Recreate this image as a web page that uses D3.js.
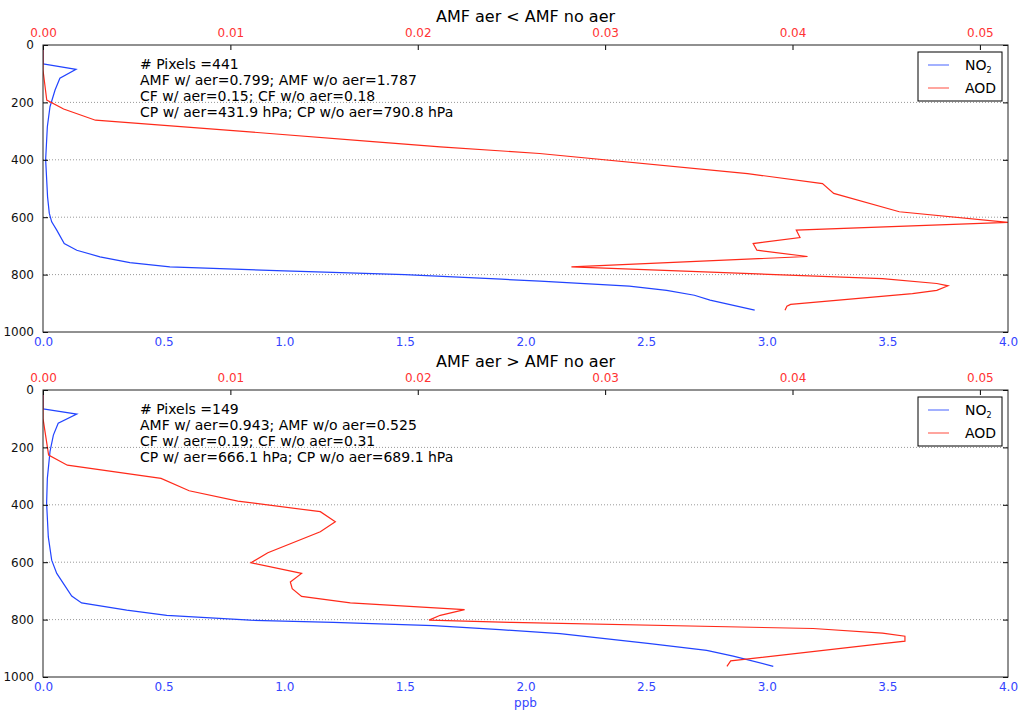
<!DOCTYPE html>
<html>
<head>
<meta charset="utf-8">
<script src="https://cdn.jsdelivr.net/npm/d3@7"></script>
<style>
  body { margin: 0; background: #fff; }
  svg { font-family: "DejaVu Sans", sans-serif; }
</style>
</head>
<body>
<div id="chart"></div>
<script>
// panel 1: AMF aer < AMF no aer
const no2Pres1 = [0, 66, 85, 116, 157, 215, 285, 400, 530, 586, 616, 645, 692, 715, 738, 758, 773, 787, 800, 816, 823, 840, 855, 872, 889, 924];
const no2Ppb1  = [0, 0, 0.137, 0.07, 0.05, 0.029, 0.018, 0.011, 0.019, 0.026, 0.036, 0.057, 0.088, 0.14, 0.236, 0.36, 0.526, 1.0, 1.5, 1.9, 2.06, 2.43, 2.585, 2.70, 2.765, 2.95];
const aodPres1 = [0, 87, 192, 223, 262, 300, 337, 355, 378, 448, 483, 517, 581, 618, 645, 671, 692, 715, 737, 773, 814, 831, 839, 855, 866, 904, 910, 924];
const aod1     = [0, 0, 0.0002, 0.0011, 0.0028, 0.0105, 0.0176, 0.0212, 0.0265, 0.0376, 0.0416, 0.0422, 0.0457, 0.0515, 0.0402, 0.0404, 0.0379, 0.0381, 0.0408, 0.0282, 0.0448, 0.0477, 0.0483, 0.0477, 0.0464, 0.0399, 0.0397, 0.0396];

// panel 2: AMF aer > AMF no aer
const no2Pres2 = [0, 66, 84, 116, 157, 215, 308, 395, 512, 593, 639, 718, 742, 767, 785, 802, 810, 821, 835, 849, 884, 907, 927, 963];
const no2Ppb2  = [0, 0, 0.14, 0.063, 0.043, 0.029, 0.018, 0.015, 0.022, 0.036, 0.057, 0.119, 0.16, 0.347, 0.513, 0.858, 1.203, 1.618, 1.894, 2.143, 2.516, 2.751, 2.861, 3.027];
const aodPres2 = [0, 99, 227, 262, 308, 351, 387, 424, 459, 494, 567, 602, 639, 669, 692, 719, 742, 765, 785, 802, 810, 831, 847, 858, 875, 884, 944, 963];
const aod2     = [0, 0, 0.0003, 0.0013, 0.0063, 0.0078, 0.0104, 0.0148, 0.0156, 0.0148, 0.012, 0.0111, 0.0138, 0.0132, 0.0133, 0.0138, 0.0164, 0.0225, 0.0212, 0.0206, 0.0250, 0.0411, 0.0448, 0.046, 0.046, 0.0448, 0.0367, 0.0365];

const titles = ["AMF aer < AMF no aer", "AMF aer > AMF no aer"];
const infoLines = [
  ["# Pixels =441", "AMF w/ aer=0.799; AMF w/o aer=1.787", "CF w/ aer=0.15; CF w/o aer=0.18", "CP w/ aer=431.9 hPa; CP w/o aer=790.8 hPa"],
  ["# Pixels =149", "AMF w/ aer=0.943; AMF w/o aer=0.525", "CF w/ aer=0.19; CF w/o aer=0.31", "CP w/ aer=666.1 hPa; CP w/o aer=689.1 hPa"]
];
const ppbTicks = [0, 0.5, 1, 1.5, 2, 2.5, 3, 3.5, 4];
const aodTicks = [0, 0.01, 0.02, 0.03, 0.04, 0.05];
const presTicks = [0, 200, 400, 600, 800, 1000];
const gridTicks = [200, 400, 600, 800];

const panels = [
  {no2P: no2Pres1, no2V: no2Ppb1, aodP: aodPres1, aodV: aod1},
  {no2P: no2Pres2, no2V: no2Ppb2, aodP: aodPres2, aodV: aod2}
];

const width = 1020, height = 713;
const blue = "#2244ff", red = "#ff2a1a";
const blueText = "#3344ff", redText = "#ff3333";
const plotLeft = 43, plotRight = 1008, plotH = 287;
const panelTops = [45, 390];

let svg = d3.select("#chart").append("svg")
  .attr("width", width)
  .attr("height", height);

let x = d3.scaleLinear().domain([0, 4]).range([plotLeft, plotRight]);
let xTop = d3.scaleLinear().domain([0, 0.0515]).range([plotLeft, plotRight]);

panels.forEach((pd, i) => {
  const top = panelTops[i];
  let y = d3.scaleLinear().domain([0, 1000]).range([top, top + plotH]);
  let g = svg.append("g");

  // dotted grid
  g.selectAll("line.grid").data(gridTicks).enter().append("line")
    .attr("class", "grid")
    .attr("x1", plotLeft).attr("x2", plotRight)
    .attr("y1", (d) => y(d)).attr("y2", (d) => y(d))
    .attr("stroke", "#999").attr("stroke-width", 1)
    .attr("stroke-dasharray", "1,2");

  let clipId = "clip" + i;
  svg.append("clipPath").attr("id", clipId).append("rect")
    .attr("x", plotLeft).attr("y", top)
    .attr("width", plotRight - plotLeft).attr("height", plotH);

  let no2Line = d3.line().x((d) => x(d[0])).y((d) => y(d[1]));
  let aodLine = d3.line().x((d) => xTop(d[0])).y((d) => y(d[1]));

  g.append("path")
    .datum(d3.zip(pd.no2V, pd.no2P))
    .attr("d", no2Line)
    .attr("clip-path", `url(#${clipId})`)
    .attr("fill", "none").attr("stroke", blue).attr("stroke-width", 1.2);

  g.append("path")
    .datum(d3.zip(pd.aodV, pd.aodP))
    .attr("d", aodLine)
    .attr("clip-path", `url(#${clipId})`)
    .attr("fill", "none").attr("stroke", red).attr("stroke-width", 1.2);

  // axes (ticks inward, matplotlib classic style)
  let left = g.append("g").attr("transform", `translate(${plotLeft},0)`)
    .call(d3.axisLeft(y).tickValues(presTicks).tickSizeInner(-5).tickSizeOuter(0).tickPadding(9).tickFormat(d3.format("d")));
  let right = g.append("g").attr("transform", `translate(${plotRight},0)`)
    .call(d3.axisRight(y).tickValues(presTicks).tickSizeInner(-5).tickSizeOuter(0).tickFormat(""));
  let bottom = g.append("g").attr("transform", `translate(0,${top + plotH})`)
    .call(d3.axisBottom(x).tickValues(ppbTicks).tickSizeInner(0).tickSizeOuter(0).tickPadding(5).tickFormat(d3.format(".1f")));
  let topAx = g.append("g").attr("transform", `translate(0,${top})`)
    .call(d3.axisTop(xTop).tickValues(aodTicks).tickSizeInner(-5).tickSizeOuter(0).tickPadding(8).tickFormat(d3.format(".2f")));

  [left, right, bottom, topAx].forEach((a) => {
    a.select(".domain").remove();
    a.selectAll("line").attr("stroke", "#000");
    a.selectAll("text").attr("font-family", "DejaVu Sans").attr("font-size", 12);
  });
  left.selectAll("text").attr("fill", "#111");
  bottom.selectAll("text").attr("fill", blueText);
  topAx.selectAll("text").attr("fill", redText);

  // frame
  g.append("rect")
    .attr("x", plotLeft).attr("y", top)
    .attr("width", plotRight - plotLeft).attr("height", plotH)
    .attr("fill", "none").attr("stroke", "#222").attr("stroke-width", 1);

  // title
  g.append("text")
    .attr("x", (plotLeft + plotRight) / 2).attr("y", top - 23)
    .attr("text-anchor", "middle").attr("font-size", 16).attr("fill", "#000")
    .text(titles[i]);

  // info text
  g.selectAll("text.info").data(infoLines[i]).enter().append("text")
    .attr("class", "info")
    .attr("x", 140).attr("y", (d, k) => top + 24 + k * 16)
    .attr("font-size", 14).attr("fill", "#000")
    .text((d) => d);

  // legend
  let lg = g.append("g").attr("transform", `translate(918,${top + 7})`);
  lg.append("rect").attr("width", 84).attr("height", 49)
    .attr("fill", "#fff").attr("stroke", "#000").attr("stroke-width", 1);
  const legendItems = [{label: "NO", sub: "2", color: blue}, {label: "AOD", sub: "", color: red}];
  legendItems.forEach((it, k) => {
    let ly = 13 + k * 23;
    lg.append("line").attr("x1", 10).attr("x2", 31).attr("y1", ly).attr("y2", ly)
      .attr("stroke", it.color).attr("stroke-width", 1.2).attr("stroke-opacity", 0.7);
    let t = lg.append("text").attr("x", 47).attr("y", ly + 5).attr("font-size", 14).attr("fill", "#000");
    t.append("tspan").text(it.label);
    if (it.sub) t.append("tspan").attr("font-size", 8).attr("dy", 3).text(it.sub);
  });
});

svg.append("text")
  .attr("x", (plotLeft + plotRight) / 2).attr("y", 707)
  .attr("text-anchor", "middle").attr("font-size", 12).attr("fill", blueText)
  .text("ppb");
</script>
</body>
</html>
